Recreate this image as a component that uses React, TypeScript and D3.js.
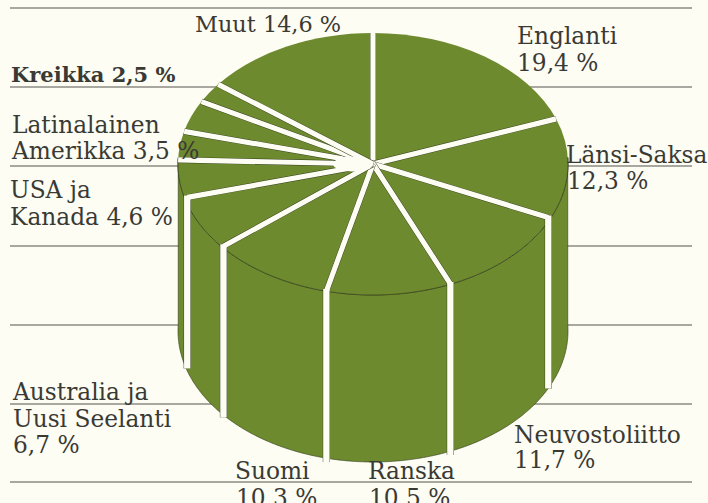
import React from "react";
import * as d3 from "d3";

const names = ["Englanti","Länsi-Saksa","Neuvostoliitto","Ranska","Suomi","Australia","USA","Latinalainen","(nimeämätön)","Kreikka","Muut"];
const values = [19.4,12.3,11.7,10.5,10.3,6.7,4.6,3.5,3.9,2.5,14.6];
const ruleYs = [8,87,166,246,325,404,482];
const labelLines: [string, number, number, number?, number?][] = [
  ["Muut 14,6 %",195,32,400,22.4],
  ["Englanti",517,44],["19,4 %",517,71],
  ["Kreikka 2,5 %",11,82,700,21],
  ["Latinalainen",12,133],["Amerikka 3,5 %",12,159],
  ["USA ja",10,198],["Kanada 4,6 %",10,225],
  ["Länsi-Saksa",566,163],["12,3 %",567,189],
  ["Australia ja",13,400],["Uusi Seelanti",13,427],["6,7 %",13,453],
  ["Neuvostoliitto",514,443],["11,7 %",514,468],
  ["Suomi",235,479],["10,3 %",236,506],
  ["Ranska",368,479],["10,5 %",369,506],
];

const W=708,H=503,cx=373,cy=164,rx=195,ry=131,depth=167;
const GREEN="#6e8a2f",BG="#fdfdf4",INK="#3a3a34",EDGE="#2f3a18";

export default function App(){
  const angle=d3.scaleLinear().domain([0,d3.sum(values)]).range([0,2*Math.PI]);
  const pt=(t:number,dz=0):[number,number]=>[cx+rx*Math.sin(t),cy-ry*Math.cos(t)+dz];
  const cum=d3.cumsum(values);
  const bounds=[0,...Array.from(cum).map(v=>angle(v))].slice(0,-1);
  const arcs=d3.pie<number>().sort(null)(values);
  const arc=d3.arc<d3.PieArcDatum<number>>().innerRadius(0).outerRadius(rx);
  const wallT=d3.range(Math.PI/2-0.05,3*Math.PI/2+0.05,0.01);
  const wall=d3.line()([...wallT.map(t=>pt(t)),...wallT.slice().reverse().map(t=>pt(t,depth))])+"Z";
  const rimFront=d3.line()(wallT.map(t=>pt(t)))||"";
  return (
    <svg width={W} height={H} style={{position:"fixed",left:0,top:0,background:BG}}>
      <rect width={W} height={H} fill={BG}/>
      {ruleYs.map(y=><line key={y} x1={10} x2={692} y1={y} y2={y} stroke="#55554e" strokeWidth={1.2}/>)}
      <path d={wall} fill={GREEN} stroke={EDGE} strokeWidth={0.6}/>
      <g transform={`translate(${cx},${cy}) scale(1,${ry/rx})`}>
        {arcs.map((a,i)=><path key={names[i]} d={arc(a)||""} fill={GREEN}/>)}
      </g>
      <path d={rimFront} fill="none" stroke={EDGE} strokeWidth={0.7}/>
      {bounds.map((t,i)=>{
        const [x0,y]=pt(t);
        const front=t>Math.PI/2&&t<3*Math.PI/2;
        const x=front?cx+(x0-cx)*0.985:x0;
        const top=d3.line()([[cx,cy],[x,y]])||"";
        const side=d3.line()([[x,y-2],[x,y+depth+4]])||"";
        return <g key={i}>
          <path d={top} fill="none" stroke={EDGE} strokeWidth={6}/>
          {front&&<path d={side} fill="none" stroke={EDGE} strokeWidth={7.2}/>}
          <path d={top} fill="none" stroke={BG} strokeWidth={5.2}/>
          {front&&<path d={side} fill="none" stroke={BG} strokeWidth={6.4}/>}
        </g>;
      })}
      <ellipse cx={cx-20} cy={cy} rx={20} ry={7.5} fill={BG}/>
      <g fontFamily="'DejaVu Serif'" fontSize={23.3} fill={INK}>
        {labelLines.map(([s,x,y,w,fs])=><text key={s} x={x} y={y} fontWeight={w||400} fontSize={fs||23.3}>{s}</text>)}
      </g>
    </svg>
  );
}
